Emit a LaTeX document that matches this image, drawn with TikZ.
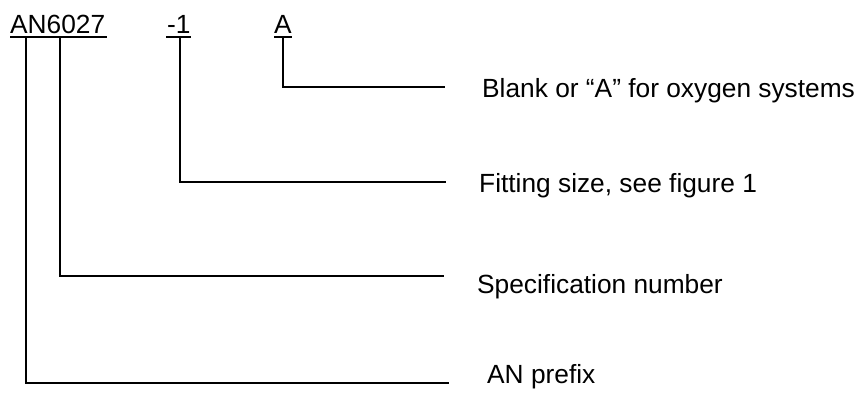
\documentclass[tikz,border=0pt]{standalone}
\usepackage{fontspec}
\setmainfont{Liberation Sans}
\begin{document}
\begin{tikzpicture}[x=1pt,y=-1pt,
  lbl/.style={font=\fontsize{26.3}{30}\selectfont, inner sep=0pt, anchor=base west},
  ln/.style={line width=1.6pt, line cap=rect},
  ul/.style={line width=1.6pt}]
\useasboundingbox (0,0) rectangle (859,392);
\node[lbl] (an) at (10,33) {AN6027};
\node[lbl] (dash) at (167,33) {-1};
\node[lbl] (a) at (274,33) {A};
\node[lbl] (t1) at (482,97) {Blank or “A” for oxygen systems};
\node[lbl] (t2) at (479,192) {Fitting size, see figure 1};
\node[lbl] (t3) at (477,293) {Specification number};
\node[lbl] (t4) at (487,383) {AN prefix};
% underlines
\draw[ul] ([yshift=-4pt]an.base west) -- ([yshift=-4pt,xshift=2pt]an.base east);
\draw[ul] ([yshift=-4pt,xshift=-1pt]dash.base west) -- ([yshift=-4pt]dash.base east);
\draw[ul] ([yshift=-4pt]a.base west) -- ([yshift=-4pt]a.base east);
% line ends
\coordinate (e1) at (444,87);
\coordinate (e2) at (445,182);
\coordinate (e3) at (443,276);
\coordinate (e4) at (448,383);
% connectors
\draw[ln] ([yshift=-4pt]a.base) |- (e1);
\draw[ln] ([yshift=-4pt,xshift=1.3pt]dash.base) |- (e2);
\draw[ln] ([yshift=-4pt,xshift=50pt]an.base west) |- (e3);
\draw[ln] ([yshift=-4pt,xshift=16pt]an.base west) |- (e4);
\end{tikzpicture}
\end{document}
